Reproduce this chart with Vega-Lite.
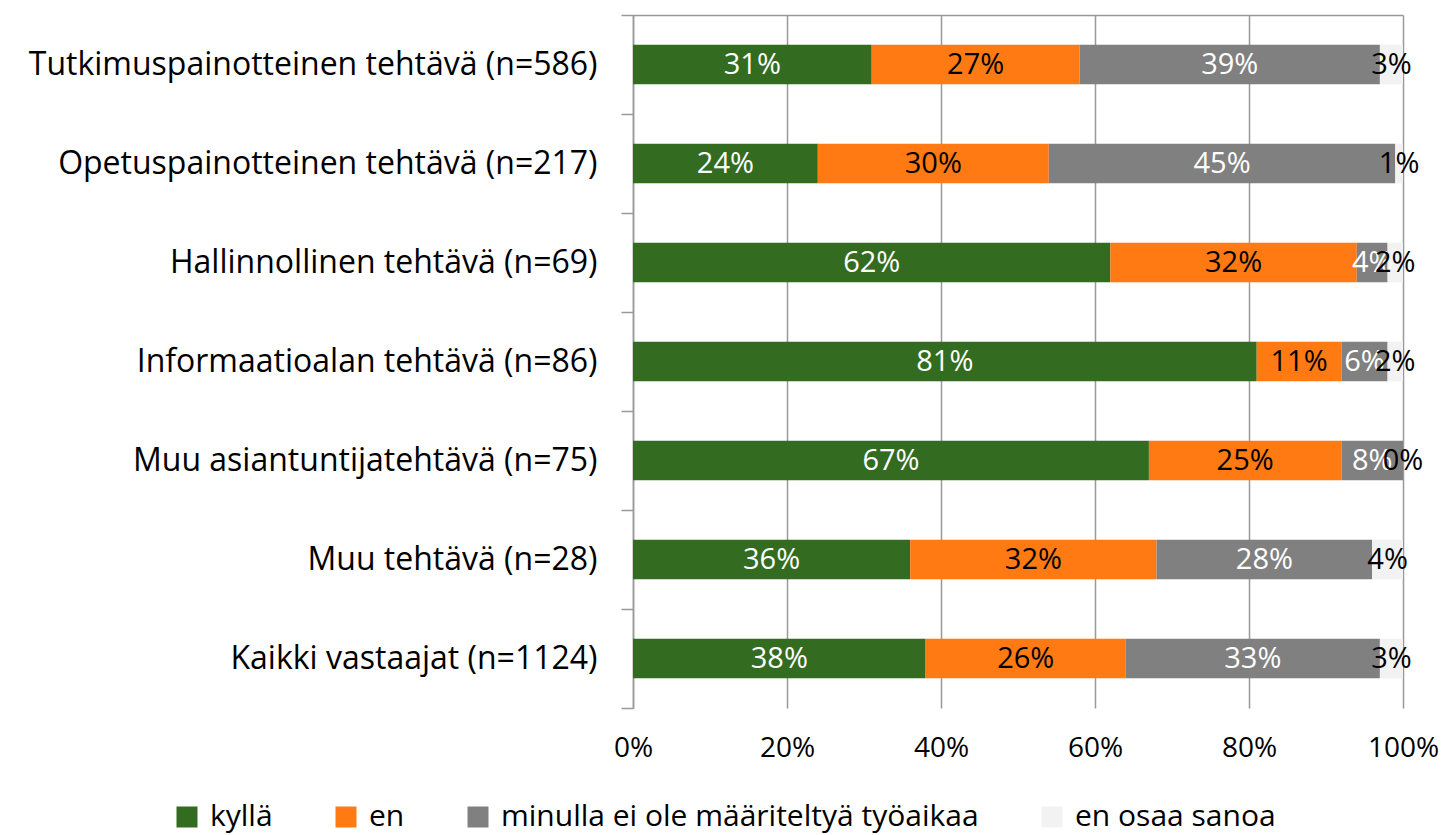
{
  "$schema": "https://vega.github.io/schema/vega-lite/v6.json",
  "width": 770,
  "height": 693,
  "autosize": {"type": "none"},
  "padding": {"left": 633, "top": 15, "right": 41, "bottom": 127},
  "background": "white",
  "config": {"view": {"stroke": null}, "font": "Open Sans"},
  "data": {"values": [
    {"task": "Tutkimuspainotteinen tehtävä (n=586)", "cat": "kyllä", "ord": 1, "value": 0.31},
    {"task": "Tutkimuspainotteinen tehtävä (n=586)", "cat": "en", "ord": 2, "value": 0.27},
    {"task": "Tutkimuspainotteinen tehtävä (n=586)", "cat": "minulla ei ole määriteltyä työaikaa", "ord": 3, "value": 0.39},
    {"task": "Tutkimuspainotteinen tehtävä (n=586)", "cat": "en osaa sanoa", "ord": 4, "value": 0.03},
    {"task": "Opetuspainotteinen tehtävä (n=217)", "cat": "kyllä", "ord": 1, "value": 0.24},
    {"task": "Opetuspainotteinen tehtävä (n=217)", "cat": "en", "ord": 2, "value": 0.30},
    {"task": "Opetuspainotteinen tehtävä (n=217)", "cat": "minulla ei ole määriteltyä työaikaa", "ord": 3, "value": 0.45},
    {"task": "Opetuspainotteinen tehtävä (n=217)", "cat": "en osaa sanoa", "ord": 4, "value": 0.01},
    {"task": "Hallinnollinen tehtävä (n=69)", "cat": "kyllä", "ord": 1, "value": 0.62},
    {"task": "Hallinnollinen tehtävä (n=69)", "cat": "en", "ord": 2, "value": 0.32},
    {"task": "Hallinnollinen tehtävä (n=69)", "cat": "minulla ei ole määriteltyä työaikaa", "ord": 3, "value": 0.04},
    {"task": "Hallinnollinen tehtävä (n=69)", "cat": "en osaa sanoa", "ord": 4, "value": 0.02},
    {"task": "Informaatioalan tehtävä (n=86)", "cat": "kyllä", "ord": 1, "value": 0.81},
    {"task": "Informaatioalan tehtävä (n=86)", "cat": "en", "ord": 2, "value": 0.11},
    {"task": "Informaatioalan tehtävä (n=86)", "cat": "minulla ei ole määriteltyä työaikaa", "ord": 3, "value": 0.06},
    {"task": "Informaatioalan tehtävä (n=86)", "cat": "en osaa sanoa", "ord": 4, "value": 0.02},
    {"task": "Muu asiantuntijatehtävä (n=75)", "cat": "kyllä", "ord": 1, "value": 0.67},
    {"task": "Muu asiantuntijatehtävä (n=75)", "cat": "en", "ord": 2, "value": 0.25},
    {"task": "Muu asiantuntijatehtävä (n=75)", "cat": "minulla ei ole määriteltyä työaikaa", "ord": 3, "value": 0.08},
    {"task": "Muu asiantuntijatehtävä (n=75)", "cat": "en osaa sanoa", "ord": 4, "value": 0.0},
    {"task": "Muu tehtävä (n=28)", "cat": "kyllä", "ord": 1, "value": 0.36},
    {"task": "Muu tehtävä (n=28)", "cat": "en", "ord": 2, "value": 0.32},
    {"task": "Muu tehtävä (n=28)", "cat": "minulla ei ole määriteltyä työaikaa", "ord": 3, "value": 0.28},
    {"task": "Muu tehtävä (n=28)", "cat": "en osaa sanoa", "ord": 4, "value": 0.04},
    {"task": "Kaikki vastaajat (n=1124)", "cat": "kyllä", "ord": 1, "value": 0.38},
    {"task": "Kaikki vastaajat (n=1124)", "cat": "en", "ord": 2, "value": 0.26},
    {"task": "Kaikki vastaajat (n=1124)", "cat": "minulla ei ole määriteltyä työaikaa", "ord": 3, "value": 0.33},
    {"task": "Kaikki vastaajat (n=1124)", "cat": "en osaa sanoa", "ord": 4, "value": 0.03}
  ]},
  "transform": [
    {"stack": "value", "groupby": ["task"], "sort": [{"field": "ord"}], "as": ["v0", "v1"]},
    {"calculate": "(datum.v0 + datum.v1) / 2", "as": "mid"}
  ],
  "encoding": {
    "y": {
      "field": "task", "type": "nominal",
      "sort": ["Tutkimuspainotteinen tehtävä (n=586)", "Opetuspainotteinen tehtävä (n=217)", "Hallinnollinen tehtävä (n=69)", "Informaatioalan tehtävä (n=86)", "Muu asiantuntijatehtävä (n=75)", "Muu tehtävä (n=28)", "Kaikki vastaajat (n=1124)"],
      "scale": {"paddingInner": 0, "paddingOuter": 0},
      "axis": {
        "title": null, "domain": true, "domainColor": "#999999", "domainWidth": 1.5,
        "ticks": true, "tickColor": "#999999", "tickWidth": 1.5, "tickSize": 12, "tickBand": "extent",
        "labelFontSize": 32, "labelColor": "#000000", "labelPadding": 24, "labelLimit": 700, "grid": false
      }
    }
  },
  "layer": [
    {
      "mark": {"type": "bar", "height": {"band": 0.4}},
      "encoding": {
        "x": {
          "field": "v0", "type": "quantitative", "scale": {"domain": [0, 1], "nice": false},
          "axis": {
            "orient": "bottom", "title": null, "format": ".0%", "values": [0, 0.2, 0.4, 0.6, 0.8, 1],
            "domain": false, "ticks": false, "grid": true, "gridColor": "#999999", "gridWidth": 1.5,
            "labelFontSize": 28, "labelColor": "#000000", "labelPadding": 26, "labelFlush": false
          }
        },
        "x2": {"field": "v1"},
        "color": {
          "field": "cat", "type": "nominal",
          "scale": {
            "domain": ["kyllä", "en", "minulla ei ole määriteltyä työaikaa", "en osaa sanoa"],
            "range": ["#336B21", "#FF7A13", "#808080", "#F2F2F2"]
          },
          "legend": {
            "title": null, "orient": "none", "direction": "horizontal", "legendX": -461, "legendY": 787,
            "symbolType": "square", "symbolSize": 441, "symbolStrokeWidth": 0, "labelFontSize": 30,
            "labelColor": "#000000", "columnPadding": 58, "labelOffset": 8, "labelLimit": 800
          }
        }
      }
    },
    {
      "mark": {"type": "text", "fontSize": 29, "baseline": "middle", "align": "center"},
      "encoding": {
        "x": {
          "field": "mid", "type": "quantitative", "scale": {"domain": [0, 1], "nice": false},
          "axis": {"orient": "top", "title": null, "labels": false, "ticks": false, "grid": false, "domain": true, "domainColor": "#999999", "domainWidth": 1.5}
        },
        "text": {"field": "value", "type": "quantitative", "format": ".0%"},
        "color": {
          "condition": {"test": "datum.cat === 'kyllä' || datum.cat === 'minulla ei ole määriteltyä työaikaa'", "value": "#FFFFFF"},
          "value": "#000000"
        }
      }
    }
  ],
  "resolve": {"axis": {"x": "independent"}}
}
